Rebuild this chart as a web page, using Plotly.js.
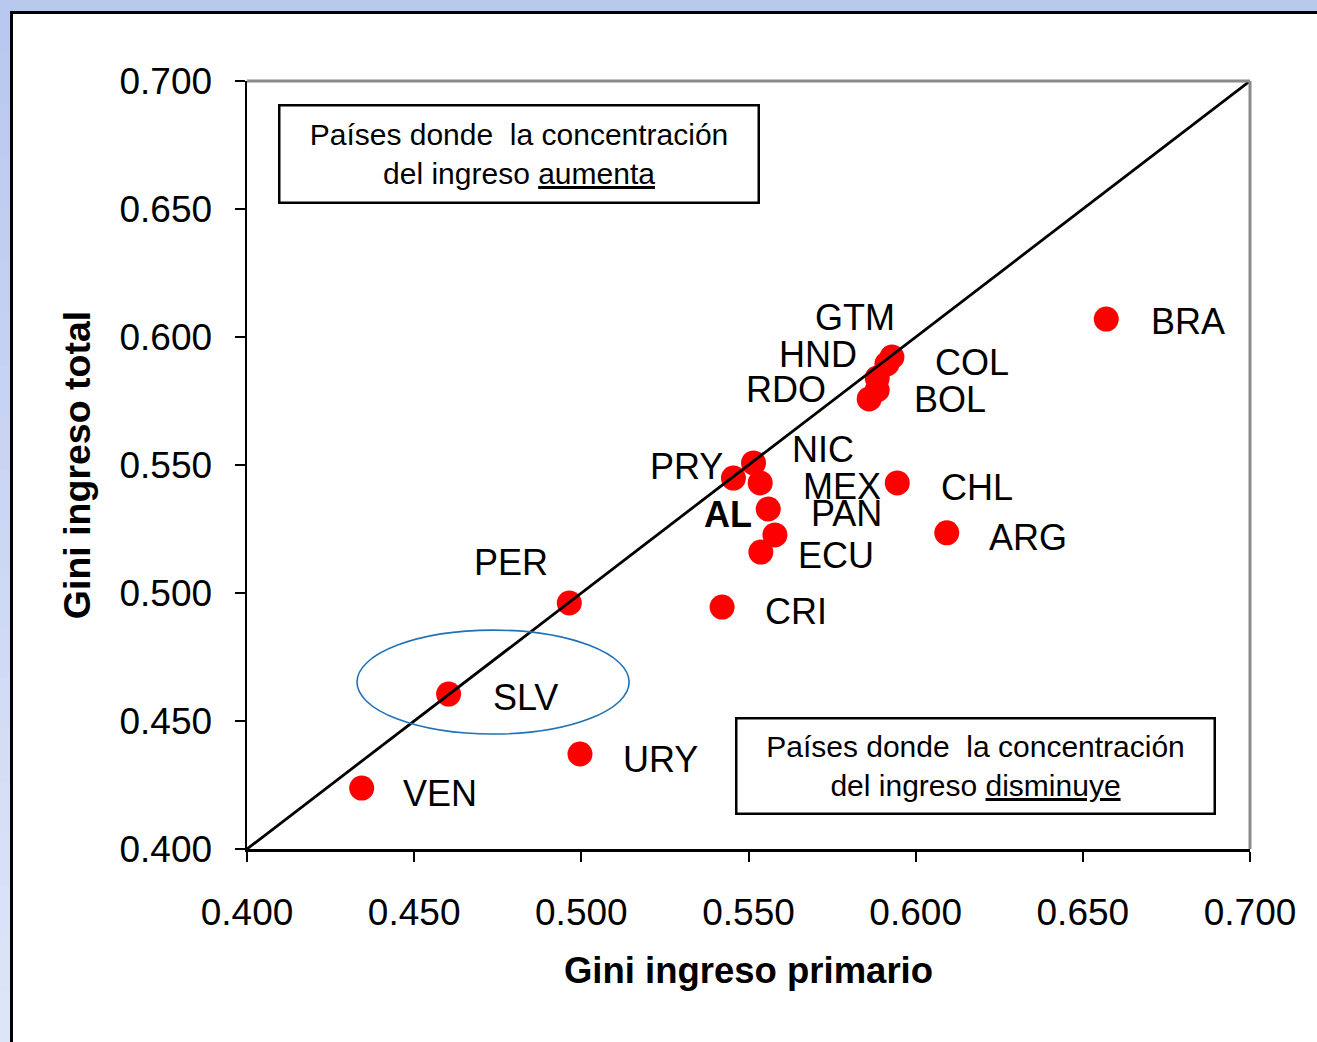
<!DOCTYPE html>
<html>
<head>
<meta charset="utf-8">
<script src="https://cdn.plot.ly/plotly-3.0.1.min.js"></script>
<style>html,body{margin:0;padding:0;background:#b9c9ee;}#chart{width:1317px;height:1042px;}</style>
</head>
<body>
<div id="chart"></div>
<script>
// ---- data ----
const countries = ["BRA","GTM","COL","HND","BOL","RDO","NIC","PRY","MEX","CHL","AL","PAN","ECU","ARG","PER","CRI","SLV","URY","VEN"];
const giniPrimario = [0.657,0.5929,0.5914,0.5885,0.5885,0.5861,0.5515,0.5455,0.5535,0.5945,0.5559,0.5579,0.5537,0.6093,0.4964,0.5421,0.4603,0.4996,0.4343];
const giniTotal    = [0.607,0.5922,0.5895,0.5840,0.5793,0.5758,0.5508,0.5449,0.5430,0.5430,0.5328,0.5227,0.5160,0.5235,0.4961,0.4945,0.4605,0.4371,0.4238];
const xTickVals = [0.40,0.45,0.50,0.55,0.60,0.65,0.70];
const yTickVals = [0.40,0.45,0.50,0.55,0.60,0.65,0.70];
const diagonal = [0.4, 0.7];
const boxTopText = "Países donde\u00a0 la concentración<br>del ingreso <u>aumenta</u>";
const boxBottomText = "Países donde\u00a0 la concentración<br>del ingreso <u>disminuye</u>";
const xTitle = "Gini ingreso primario";
const yTitle = "Gini ingreso total";

// ---- label placement (pixel offsets from each point, screen coords) ----
const labelOffsets = {
  BRA:[82,2], GTM:[-37,-39], COL:[85,-1], HND:[-59,-23], BOL:[73,10], RDO:[-83,-9],
  NIC:[69,-13], PRY:[-47,-12], MEX:[82,4], CHL:[80,5], AL:[-40,5], PAN:[72,-21],
  ECU:[75,3], ARG:[81,5], PER:[-58,-40], CRI:[74,4], SLV:[77,3], URY:[80,5], VEN:[78,5]
};

// ---- layout geometry ----
const W = 1317, H = 1042;
const L = 247, R = 1250, T = 81, B = 849;
const px = p => (p - L) / (R - L);
const py = p => (B - p) / (B - T);
const FONT = "Liberation Sans, Arial, sans-serif";

const annotations = countries.map((c, i) => ({
  x: giniPrimario[i], y: giniTotal[i], xref: "x", yref: "y",
  text: c === "AL" ? "<b>AL</b>" : c,
  showarrow: false, xanchor: "center", yanchor: "middle",
  xshift: labelOffsets[c][0], yshift: -labelOffsets[c][1],
  font: {family: FONT, size: 36, color: "#000"}
}));
annotations.push({
  x: px(519), y: py(154), xref: "paper", yref: "paper", showarrow: false,
  xanchor: "center", yanchor: "middle",
  text: boxTopText, align: "center", width: 477, height: 95,
  bordercolor: "#000", borderwidth: 2.5, borderpad: 0, bgcolor: "#fff",
  font: {family: FONT, size: 30, color: "#000"}
});
annotations.push({
  x: px(975.5), y: py(766), xref: "paper", yref: "paper", showarrow: false,
  xanchor: "center", yanchor: "middle",
  text: boxBottomText, align: "center", width: 476, height: 93,
  bordercolor: "#000", borderwidth: 2.5, borderpad: 0, bgcolor: "#fff",
  font: {family: FONT, size: 30, color: "#000"}
});

const shapes = [];
// left strip gradient
const c1 = [184,200,238], c2 = [222,229,248];
const nb = 20;
for (let k = 0; k < nb; k++) {
  const t = k / (nb - 1);
  const col = `rgb(${c1.map((v, j) => Math.round(v + (c2[j] - v) * t)).join(",")})`;
  shapes.push({type: "rect", xref: "paper", yref: "paper", layer: "below",
    x0: px(-5), x1: px(11), y0: py(k * H / nb), y1: py((k + 1) * H / nb + 1),
    fillcolor: col, line: {width: 0}});
}
// white panel with black frame
shapes.push({type: "rect", xref: "paper", yref: "paper", layer: "below",
  x0: px(11.5), x1: px(1330), y0: py(1060), y1: py(12.5),
  fillcolor: "#fff", line: {color: "#000", width: 3}});
// gray plot-area border top & right
shapes.push({type: "line", xref: "paper", yref: "paper", layer: "above",
  x0: 0, x1: 1, y0: 1, y1: 1, line: {color: "#8a8a8a", width: 3}});
shapes.push({type: "line", xref: "paper", yref: "paper", layer: "above",
  x0: 1, x1: 1, y0: 0, y1: 1, line: {color: "#8a8a8a", width: 3}});
// ellipse around SLV
shapes.push({type: "circle", xref: "x", yref: "y", layer: "above",
  x0: 0.4329, x1: 0.5143, y0: 0.4449, y1: 0.4855,
  line: {color: "#1f72b8", width: 1.6}});

const traces = [
  {type: "scatter", mode: "markers", x: giniPrimario, y: giniTotal,
   marker: {color: "#ff0000", size: 25, line: {width: 0}}, hoverinfo: "text", text: countries, cliponaxis: false},
  {type: "scatter", mode: "lines", x: diagonal, y: diagonal,
   line: {color: "#000", width: 2.8}, hoverinfo: "skip"}
];

const axisCommon = {
  range: [0.4, 0.7], tickmode: "array", tickformat: ".3f",
  showgrid: false, zeroline: false, showline: true, linecolor: "#000", linewidth: 2.5,
  ticks: "outside", ticklen: 10, tickwidth: 2, tickcolor: "#000",
  tickfont: {family: FONT, size: 37, color: "#000"}, automargin: false, fixedrange: true
};

const layout = {
  width: W, height: H,
  margin: {l: L, r: W - R, t: T, b: H - B, pad: 0},
  paper_bgcolor: "#b9c9ee", plot_bgcolor: "rgba(0,0,0,0)",
  showlegend: false,
  xaxis: Object.assign({}, axisCommon, {
    tickvals: xTickVals, ticklabelstandoff: 19,
    title: {text: "<b>" + xTitle + "</b>", font: {family: FONT, size: 36.5, color: "#000"}, standoff: 26}
  }),
  yaxis: Object.assign({}, axisCommon, {
    tickvals: yTickVals, ticklabelstandoff: 15,
    title: {text: "<b>" + yTitle + "</b>", font: {family: FONT, size: 37.5, color: "#000"}, standoff: 18}
  }),
  shapes: shapes,
  annotations: annotations
};

Plotly.newPlot("chart", traces, layout, {displayModeBar: false, staticPlot: true});
</script>
</body>
</html>
